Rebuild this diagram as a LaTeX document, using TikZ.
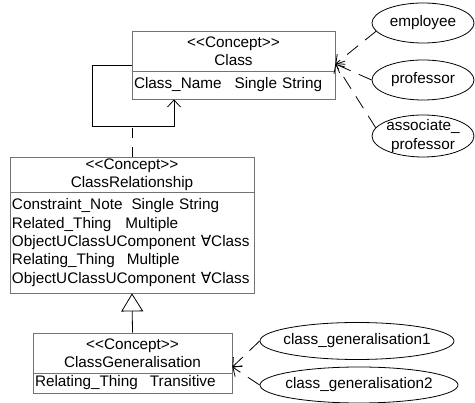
\documentclass[tikz,border=0pt]{standalone}
\usepackage{fontspec}
\setmainfont{Liberation Sans}
\newfontfamily\symfont{DejaVu Sans}
\usetikzlibrary{arrows.meta,shapes.geometric}
\colorlet{boxgray}{black!55}

\begin{document}
\begin{tikzpicture}[x=1pt, y=-1pt,
  every node/.style={font=\fontsize{15.3}{18.4}\selectfont},
  part/.style={draw=boxgray, line width=0.8pt, inner xsep=2pt, inner ysep=0pt, minimum height=#1},
  head/.style={part=#1, align=center},
  attr/.style={part=#1, align=left},
  inst/.style={ellipse, draw, line width=0.8pt, inner xsep=-6pt, inner ysep=-3pt,
    minimum width=102pt, minimum height=40pt, align=center},
  e/.style={line width=0.8pt},
  dep/.style={e, dash pattern=on 14pt off 9pt, -{Straight Barb[length=7pt,width=13pt]}}
]
\useasboundingbox (0,0) rectangle (475,403);

% --- concept boxes ---
\node[head=40pt, text width=199pt] (clshead) at (233.5,51) {<{}<Concept>{}>\\Class};
\node[attr=28pt, text width=199pt] (clsattr) at (233.5,85) {Class\_Name\hspace{13pt}Single String};

\node[head=35pt, text width=240pt] (relhead) at (132,174.5) {<{}<Concept>{}>\\ClassRelationship};
\node[attr=101pt, text width=240pt] (relattr) at (132,242.5) {%
  Constraint\_Note\hspace{9pt}Single String\\
  Related\_Thing\hspace{14pt}Multiple\\
  ObjectUClassUComponent {\symfont ∀}Class\\
  Relating\_Thing\hspace{12pt}Multiple\\
  ObjectUClassUComponent {\symfont ∀}Class};

\node[head=40pt, text width=195pt] (genhead) at (132.5,353) {<{}<Concept>{}>\\ClassGeneralisation};
\node[attr=20pt, text width=195pt] (genattr) at (132.5,383) {Relating\_Thing\hspace{12pt}Transitive};

% --- instances ---
\node[inst] (employee) at (423,23) {employee};
\node[inst] (professor) at (423,80) {professor};
\node[inst, minimum height=42pt] (assocprof) at (423,136) {associate\_\\professor};
\node[inst, minimum width=194pt, minimum height=37pt] (gen1) at (357,341) {class\_generalisation1};
\node[inst, minimum width=198pt, minimum height=36pt] (gen2) at (359,385) {class\_generalisation2};

% --- self association of Class with its association class ---
\coordinate (bendL) at (92,126);
\coordinate (bendR) at (174,126);
\draw[e, -{Straight Barb[length=7pt,width=13pt]}]
  ([yshift=-14pt]clshead.west) -| (bendL) -- (bendR) -- (bendR |- clsattr.south);
\draw[e, dash pattern=on 10pt off 9pt] (relhead.north) -- (relhead.north |- bendL);

% --- generalisation ---
\draw[e, -{Triangle[open, length=18pt, width=22pt]}] (genhead.north) -- (relattr.south);

% --- instance links ---
\draw[dep] (employee.190) -- ([yshift=-13pt]clshead.east);
\draw[dep] (professor.west) -- ([yshift=-13pt]clshead.east);
\draw[dep] (assocprof.170) -- ([yshift=-13pt]clshead.east);
\draw[dep] (gen1.west) -- ([yshift=-14pt]genhead.east);
\draw[dep] (gen2.west) -- ([yshift=-14pt]genhead.east);

\end{tikzpicture}
\end{document}
